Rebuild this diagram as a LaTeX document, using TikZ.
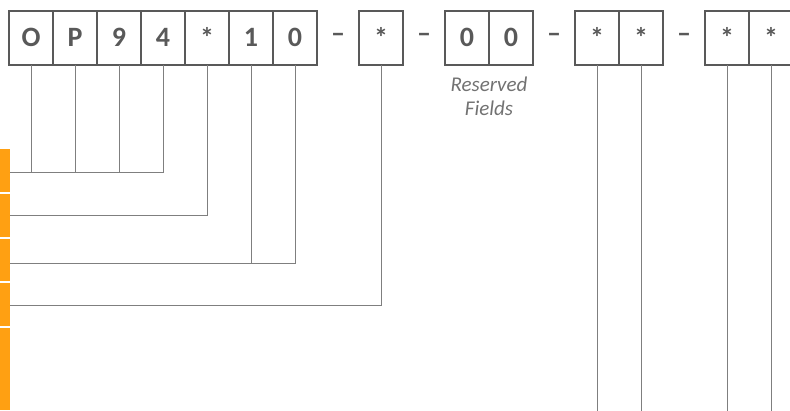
\documentclass[tikz,border=0pt]{standalone}
\usepackage{fontspec}
\setmainfont{Carlito}[BoldFont={Carlito Bold},ItalicFont={Carlito Italic}]
\usetikzlibrary{positioning}
\definecolor{boxgray}{HTML}{595959}
\definecolor{wiregray}{HTML}{7F7F7F}
\definecolor{tabfill}{HTML}{FFA012}

\begin{document}
\begin{tikzpicture}[x=1pt,y=-1pt,
    digit/.style={draw=boxgray,line width=2pt,minimum width=44pt,minimum height=54pt,
      inner sep=0pt,outer sep=0pt,text=boxgray,font=\fontsize{28}{30}\selectfont\bfseries},
    sep/.style={minimum width=42pt,minimum height=54pt,inner sep=0pt,outer sep=0pt,
      text=boxgray,font=\fontsize{28}{30}\selectfont\bfseries},
    wire/.style={draw=wiregray,line width=1pt},
    note/.style={text=boxgray!85,align=center,font=\fontsize{21}{24}\selectfont\itshape}]
    \clip (0,0) rectangle (790,410);

    % code boxes
    \node [digit] (d1) at (31,37.5) {O};
    \node [digit,right=0pt of d1] (d2) {P};
    \node [digit,right=0pt of d2] (d3) {9};
    \node [digit,right=0pt of d3] (d4) {4};
    \node [digit,right=0pt of d4] (d5) {*};
    \node [digit,right=0pt of d5] (d6) {1};
    \node [digit,right=0pt of d6] (d7) {0};
    \node [sep,right=0pt of d7] (s1) {--};
    \node [digit,right=0pt of s1] (d8) {*};
    \node [sep,right=0pt of d8] (s2) {--};
    \node [digit,right=0pt of s2] (d9) {0};
    \node [digit,right=0pt of d9] (d10) {0};
    \node [sep,right=0pt of d10] (s3) {--};
    \node [digit,right=0pt of s3] (d11) {*};
    \node [digit,right=0pt of d11] (d12) {*};
    \node [sep,right=0pt of d12] (s4) {--};
    \node [digit,right=0pt of s4] (d13) {*};
    \node [digit,right=0pt of d13] (d14) {*};

    \node [note,below=9pt of d9.south east] (res) {Reserved\\Fields};

    % orange tabs on the left
    \foreach \ya/\yb in {149/192,194/237,239/281,283/326,328/410}
        \fill [tabfill] (0,\ya) rectangle (10,\yb);

    \coordinate (g1) at (10,172);
    \coordinate (g2) at (10,215);
    \coordinate (g3) at (10,263);
    \coordinate (g4) at (10,305);
    \coordinate (bot) at (0,411);

    % connectors
    \foreach \n in {d1,d2,d3}
        \draw [wire] (\n.south) -- (\n.south |- g1);
    \draw [wire] (d4.south) |- (g1);
    \draw [wire] (d5.south) |- (g2);
    \draw [wire] (d6.south) -- (d6.south |- g3);
    \draw [wire] (d7.south) |- (g3);
    \draw [wire] (d8.south) |- (g4);
    \foreach \n in {d11,d12,d13,d14}
        \draw [wire] (\n.south) -- (\n.south |- bot);
\end{tikzpicture}
\end{document}
